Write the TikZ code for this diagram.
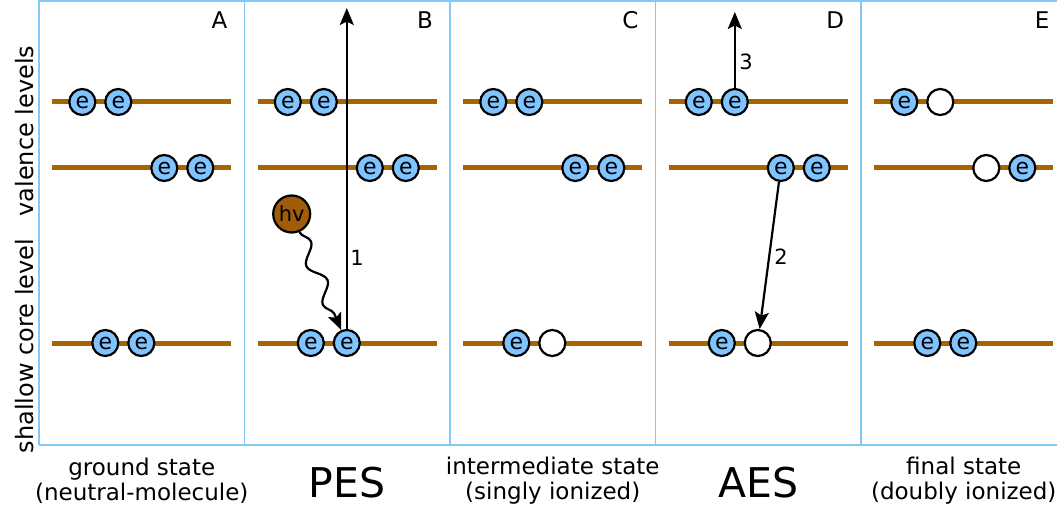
\documentclass[tikz,border=0pt]{standalone}
\usepackage{fontspec}
\setmainfont{DejaVu Sans}
\usetikzlibrary{arrows.meta,decorations.pathmorphing}
\definecolor{framecol}{RGB}{130,200,250}
\definecolor{levcol}{RGB}{168,100,0}
\definecolor{ecol}{RGB}{128,196,255}
\definecolor{hvcol}{RGB}{160,92,8}
\tikzset{
  elec/.style={circle, draw, line width=2.2pt, fill=ecol, minimum size=26pt, inner sep=0pt, font=\fontsize{22}{22}\selectfont},
  hole/.style={circle, draw, line width=2.2pt, fill=white, minimum size=26pt, inner sep=0pt},
  level/.style={levcol, line width=5pt},
  framel/.style={framecol, line width=1.6pt},
  arr/.style={line width=2.2pt, -{Stealth[length=17pt,width=14pt,inset=3.5pt]}},
  num/.style={font=\fontsize{21}{21}\selectfont},
  letter/.style={anchor=base east, font=\fontsize{23}{23}\selectfont},
  caption/.style={align=center, font=\fontsize{23}{25}\selectfont},
  bigcap/.style={anchor=base, font=\fontsize{41}{41}\selectfont},
  side/.style={rotate=90, anchor=base, font=\fontsize{24}{24}\selectfont},
}
\begin{document}
\begin{tikzpicture}[x=1pt,y=-1pt]
\useasboundingbox (0,0) rectangle (1057,513);
% frame
\coordinate (ftl) at (39,0.8);
\coordinate (ftr) at (1057,0.8);
\coordinate (fbl) at (39,445);
\coordinate (fbr) at (1057,445);
\draw[framel] (ftl) -- (ftr);
\draw[framel] (fbl) -- (fbr);
\foreach \d [count=\i] in {39,244.5,450,655.5,861} {
  \coordinate (dt\i) at (\d,0);
  \coordinate (db\i) at (\d,445);
  \draw[framel] (dt\i) -- (db\i);
}
% levels
\foreach \d [count=\i] in {39,244.5,450,655.5,861} {
  \coordinate (v1l\i) at (\d+13,102);
  \coordinate (v1r\i) at (\d+192,102);
  \coordinate (v2l\i) at (\d+13,168);
  \coordinate (v2r\i) at (\d+192,168);
  \coordinate (cl\i) at (\d+13,343);
  \coordinate (cr\i) at (\d+192,343);
  \draw[level] (v1l\i) -- (v1r\i);
  \draw[level] (v2l\i) -- (v2r\i);
  \draw[level] (cl\i) -- (cr\i);
}
% panel letters
\node[letter] (LA) at (231,29) {A};
\node[letter] (LB) at (436.5,29) {B};
\node[letter] (LC) at (642,29) {C};
\node[letter] (LD) at (847.5,29) {D};
\node[letter] (LE) at (1053,29) {E};
% side labels
\node[side] (sv) at (33,131) {valence levels};
\node[side] (sc) at (33,346) {shallow core level};
% panel A
\node[elec] (A1a) at (82.3,102) {e};
\node[elec] (A1b) at (118.3,102) {e};
\node[elec] (A2a) at (164.3,168) {e};
\node[elec] (A2b) at (200.3,168) {e};
\node[elec] (A3a) at (105.3,343) {e};
\node[elec] (A3b) at (141.3,343) {e};
% panel B
\node[elec] (B1a) at (287.8,102) {e};
\node[elec] (B1b) at (323.8,102) {e};
\node[elec] (B2a) at (369.8,168) {e};
\node[elec] (B2b) at (405.8,168) {e};
\node[elec] (B3a) at (310.8,343) {e};
\node[elec] (B3b) at (346.8,343) {e};
% panel C
\node[elec] (C1a) at (493.3,102) {e};
\node[elec] (C1b) at (529.3,102) {e};
\node[elec] (C2a) at (575.3,168) {e};
\node[elec] (C2b) at (611.3,168) {e};
\node[elec] (C3a) at (516.3,343) {e};
\node[hole] (C3b) at (552.3,343) {};
% panel D
\node[elec] (D1a) at (698.8,102) {e};
\node[elec] (D1b) at (734.8,102) {e};
\node[elec] (D2a) at (780.8,168) {e};
\node[elec] (D2b) at (816.8,168) {e};
\node[elec] (D3a) at (721.8,343) {e};
\node[hole] (D3b) at (757.8,343) {};
% panel E
\node[elec] (E1a) at (904.3,102) {e};
\node[hole] (E1b) at (940.3,102) {};
\node[hole] (E2a) at (986.3,168) {};
\node[elec] (E2b) at (1022.3,168) {e};
\node[elec] (E3a) at (927.3,343) {e};
\node[elec] (E3b) at (963.3,343) {e};
% photon
\node[circle, draw, line width=2.2pt, fill=hvcol, minimum size=37pt, inner sep=0pt, font=\fontsize{21}{21}\selectfont] (hv) at (291.7,214) {hv};
\draw[arr, decorate, decoration={snake, amplitude=7pt, segment length=42pt, post length=17pt}] (hv) -- (B3b);
% arrows
\coordinate (t1) at (346.8,8);
\draw[arr] (B3b.north) -- (t1);
\node[num] (n1) at (357,258) {1};
\coordinate (t3) at (734.8,12);
\draw[arr] (D1b.north) -- (t3);
\node[num] (n3) at (746,62) {3};
\draw[arr] (D2a) -- (D3b);
\node[num] (n2) at (781,257) {2};
% captions
\node[caption] (capA) at (141.75,481) {ground state\\(neutral-molecule)};
\node[bigcap] (capB) at (347.25,497) {PES};
\node[caption] (capC) at (552.75,481) {intermediate state\\(singly ionized)};
\node[bigcap] (capD) at (758.25,497) {AES};
\node[caption] (capE) at (963.75,481) {final state\\(doubly ionized)};
\end{tikzpicture}
\end{document}
